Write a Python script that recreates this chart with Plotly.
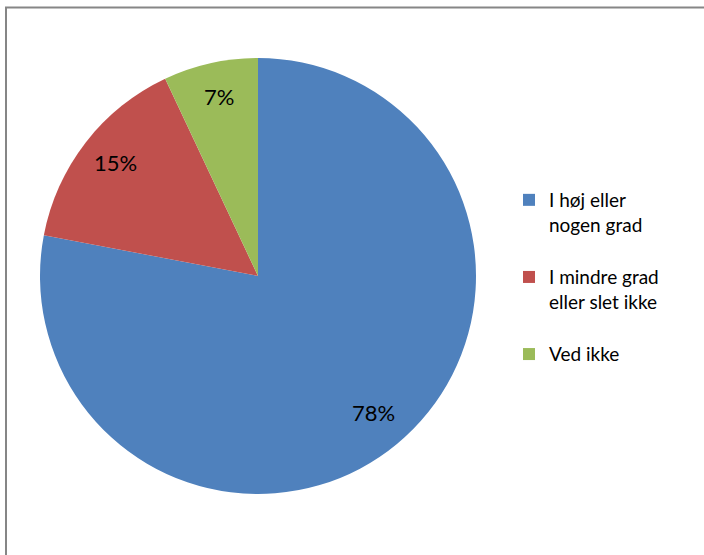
import math
import plotly.graph_objects as go

categories = ["I høj eller<br>nogen grad", "I mindre grad<br>eller slet ikke", "Ved ikke"]
values = [78, 15, 7]
text_labels = ["78%", "15%", "7%"]
colors = ["#4F81BD", "#C0504D", "#9BBB59"]

W, H = 704, 555
cx, cy, R = 258, 276, 218
dom_x = [(cx - R) / W, (cx + R) / W]
dom_y = [1 - (cy + R) / H, 1 - (cy - R) / H]

FONT = "Lato, Open Sans, sans-serif"

# legend entries get a trailing blank line to reproduce the wider entry spacing
legend_labels = [c + "<br> " for c in categories]

fig = go.Figure(go.Pie(
    labels=legend_labels, values=values, sort=False, direction="clockwise", rotation=0,
    marker=dict(colors=colors, line=dict(width=0)),
    textinfo="none",
    customdata=[c.replace("<br>", " ") for c in categories],
    hovertemplate="%{customdata}: %{percent}<extra></extra>",
    domain=dict(x=dom_x, y=dom_y),
))

total = sum(values)
cum = 0
annotations = []
for v, t in zip(values, text_labels):
    mid = (cum + v / 2) / total * 2 * math.pi
    cum += v
    r = 0.83 * R
    px = cx + r * math.sin(mid)
    py = cy - r * math.cos(mid) - 3
    annotations.append(dict(x=px / W, y=1 - py / H, xref="paper", yref="paper",
                            text=t, showarrow=False, xanchor="center", yanchor="middle",
                            font=dict(size=22, color="#000000", family=FONT)))

fig.update_layout(
    width=W, height=H, margin=dict(l=0, r=0, t=0, b=0),
    paper_bgcolor="white", plot_bgcolor="white",
    font=dict(family=FONT, size=19, color="#000000"),
    showlegend=True,
    legend=dict(x=509 / W, y=1 - 181 / H, xanchor="left", yanchor="top",
                valign="top", font=dict(size=19, color="#000000"),
                itemwidth=30, bgcolor="rgba(0,0,0,0)"),
    annotations=annotations,
    shapes=[dict(type="rect", xref="paper", yref="paper",
                 x0=6 / W, x1=1.05, y0=-0.05, y1=1 - 7.5 / H,
                 line=dict(color="#868686", width=2))],
)

fig.write_html("out.html", config={"displayModeBar": False},
               post_script="document.body.style.margin='0';document.body.style.overflow='hidden';")
